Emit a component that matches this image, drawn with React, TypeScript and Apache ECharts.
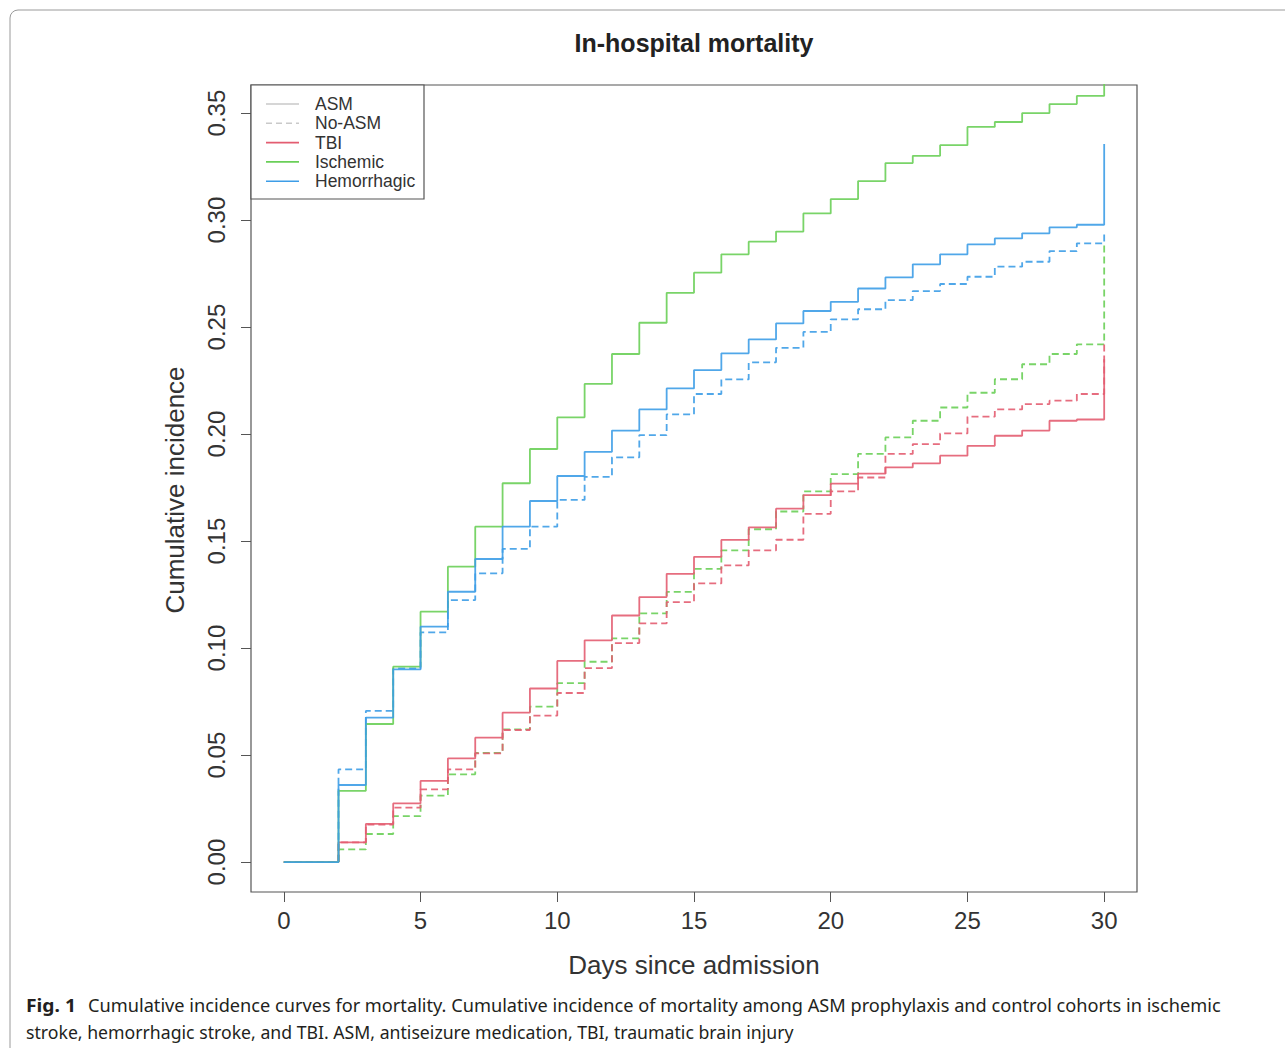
import React, { useEffect, useRef } from "react";
import * as echarts from "echarts";

const days = [0,1,2,3,4,5,6,7,8,9,10,11,12,13,14,15,16,17,18,19,20,21,22,23,24,25,26,27,28,29,30];

const ischemicASM = [0,0,0.0333,0.0645,0.0913,0.117,0.138,0.1567,0.177,0.193,0.2078,0.2234,0.2374,0.252,0.266,0.2754,0.284,0.2899,0.2946,0.3031,0.3098,0.3182,0.3266,0.33,0.335,0.3435,0.3458,0.35,0.3542,0.358,0.375];
const ischemicNoASM = [0,0,0.0059,0.0131,0.0215,0.031,0.041,0.051,0.062,0.0726,0.0836,0.0936,0.1045,0.1162,0.1262,0.137,0.1456,0.1555,0.1638,0.1732,0.1813,0.1907,0.1984,0.2062,0.2124,0.2193,0.2256,0.2326,0.2374,0.2419,0.289];
const hemorrhagicASM = [0,0,0.036,0.0675,0.09,0.11,0.1263,0.1416,0.1567,0.1687,0.1804,0.1917,0.2016,0.2115,0.2213,0.2299,0.2377,0.2442,0.2517,0.2575,0.2618,0.268,0.2732,0.2793,0.284,0.2886,0.2914,0.2938,0.2966,0.2978,0.3355];
const hemorrhagicNoASM = [0,0,0.0433,0.0706,0.0905,0.1073,0.1224,0.1349,0.1463,0.1567,0.1692,0.18,0.1891,0.1995,0.2092,0.2187,0.2255,0.2335,0.2403,0.2477,0.2536,0.2583,0.2626,0.2668,0.2701,0.2735,0.2782,0.2805,0.2855,0.2891,0.295];
const tbiASM = [0,0,0.0092,0.0178,0.0274,0.0379,0.0484,0.0581,0.0698,0.0811,0.094,0.1036,0.1152,0.1238,0.1347,0.1426,0.1505,0.1564,0.1651,0.1715,0.1768,0.1815,0.1844,0.1863,0.1899,0.1945,0.1992,0.2016,0.2062,0.2068,0.235];
const tbiNoASM = [0,0,0.0092,0.0175,0.0254,0.034,0.0433,0.0508,0.0617,0.0684,0.079,0.0906,0.1023,0.1115,0.1215,0.1302,0.1386,0.1456,0.1506,0.1627,0.1732,0.1797,0.1907,0.1953,0.2003,0.2081,0.2115,0.214,0.2156,0.2187,0.242];

const xTicks = [0, 5, 10, 15, 20, 25, 30];
const yTicks = [0, 0.05, 0.1, 0.15, 0.2, 0.25, 0.3, 0.35];

const legendLabels = ["ASM", "No-ASM", "TBI", "Ischemic", "Hemorrhagic"];

const RED = "#E35D71";
const GREEN = "#6ACF58";
const BLUE = "#3D9DE7";
const GREY = "#c9c9c9";

const title = "In-hospital mortality";
const xTitle = "Days since admission";
const yTitle = "Cumulative incidence";
const captionBold = "Fig. 1";
const captionLine1 = "Cumulative incidence curves for mortality. Cumulative incidence of mortality among ASM prophylaxis and control cohorts in ischemic";
const captionLine2 = "stroke, hemorrhagic stroke, and TBI. ASM, antiseizure medication, TBI, traumatic brain injury";

function measure(text: string, font: string): number {
  const c = document.createElement("canvas");
  const ctx = c.getContext("2d");
  if (!ctx) return 0;
  ctx.font = font;
  return ctx.measureText(text).width;
}

export default function App() {
  const ref = useRef<HTMLDivElement>(null);

  useEffect(() => {
    if (!ref.current) return;
    const chart = echarts.init(ref.current, null, { renderer: "svg" });

    const mk = (name: string, vals: number[], color: string, dashed: boolean) => ({
      name,
      type: "line",
      step: "end",
      showSymbol: false,
      symbol: "none",
      silent: true,
      clip: true,
      data: days.map((d, i) => [d, vals[i]]),
      lineStyle: { color, width: 1.8, type: dashed ? [7, 4] : "solid", opacity: 0.9 },
    });

    const capFont = "18px 'Noto Sans'";
    const capBoldFont = "bold 18px 'Noto Sans'";
    const w1 = measure(captionLine1, capFont) || 1134;
    const w2 = measure(captionLine2, capFont) || 768;
    const wb = measure(captionBold, capBoldFont) || 50;

    const legendColors = [GREY, GREY, RED, GREEN, BLUE];
    const legendDash = [false, true, false, false, false];
    const legendEls: any[] = [
      {
        type: "rect",
        z: 20,
        shape: { x: 251, y: 85, width: 173, height: 114 },
        style: { fill: "#fff", stroke: "#555", lineWidth: 1.2 },
      },
    ];
    legendLabels.forEach((lab, i) => {
      const y = 104 + i * 19.3;
      legendEls.push({
        type: "line",
        z: 21,
        shape: { x1: 266, y1: y, x2: 299, y2: y },
        style: { stroke: legendColors[i], lineWidth: 1.6, lineDash: legendDash[i] ? [6, 4] : null },
      });
      legendEls.push({
        type: "text",
        z: 21,
        x: 315,
        y: y,
        style: {
          text: lab,
          fill: "#333",
          font: "17.5px 'Liberation Sans'",
          align: "left",
          verticalAlign: "middle",
        },
      });
    });

    const option: any = {
      animation: false,
      backgroundColor: "#ffffff",
      grid: {
        left: 251,
        top: 85,
        width: 886,
        height: 807,
        show: true,
        borderColor: "#555",
        borderWidth: 1.2,
        containLabel: false,
      },
      xAxis: {
        type: "value",
        min: -1.2,
        max: 31.2,
        axisLine: { show: false, onZero: false },
        splitLine: { show: false },
        axisTick: { show: true, length: 10, lineStyle: { color: "#555" }, customValues: xTicks },
        axisLabel: {
          show: true,
          customValues: xTicks,
          margin: 16,
          fontSize: 24,
          fontFamily: "'Liberation Sans'",
          color: "#333",
        },
      },
      yAxis: {
        type: "value",
        min: -0.014,
        max: 0.3631,
        axisLine: { show: false, onZero: false },
        splitLine: { show: false },
        axisTick: { show: true, length: 10, lineStyle: { color: "#555" }, customValues: yTicks },
        axisLabel: {
          show: true,
          customValues: yTicks,
          rotate: 90,
          margin: 23,
          fontSize: 24,
          fontFamily: "'Liberation Sans'",
          color: "#333",
          formatter: (v: number) => v.toFixed(2),
        },
      },
      series: [
        mk("Ischemic No-ASM", ischemicNoASM, GREEN, true),
        mk("TBI No-ASM", tbiNoASM, RED, true),
        mk("Hemorrhagic No-ASM", hemorrhagicNoASM, BLUE, true),
        mk("TBI ASM", tbiASM, RED, false),
        mk("Ischemic ASM", ischemicASM, GREEN, false),
        mk("Hemorrhagic ASM", hemorrhagicASM, BLUE, false),
      ],
      graphic: [
        {
          type: "rect",
          shape: { x: 10, y: 10, width: 1290, height: 1050, r: 8 },
          style: { fill: "none", stroke: "#9a9a9a", lineWidth: 1 },
          silent: true,
          z: -10,
        },
        {
          type: "text",
          x: 694,
          y: 43,
          style: {
            text: title,
            fill: "#222",
            font: "bold 25px 'Liberation Sans'",
            align: "center",
            verticalAlign: "middle",
          },
        },
        {
          type: "text",
          x: 694,
          y: 965,
          style: {
            text: xTitle,
            fill: "#333",
            font: "26px 'Liberation Sans'",
            align: "center",
            verticalAlign: "middle",
          },
        },
        {
          type: "text",
          x: 175,
          y: 490,
          rotation: Math.PI / 2,
          style: {
            text: yTitle,
            fill: "#333",
            font: "26px 'Liberation Sans'",
            align: "center",
            verticalAlign: "middle",
          },
        },
        ...legendEls,
        {
          type: "text",
          x: 26,
          y: 1005,
          scaleX: 50 / wb,
          style: {
            text: captionBold,
            fill: "#231f20",
            font: capBoldFont,
            align: "left",
            verticalAlign: "middle",
          },
        },
        {
          type: "text",
          x: 88,
          y: 1005,
          scaleX: 1134 / w1,
          style: {
            text: captionLine1,
            fill: "#231f20",
            font: capFont,
            align: "left",
            verticalAlign: "middle",
          },
        },
        {
          type: "text",
          x: 26,
          y: 1032,
          scaleX: 768 / w2,
          style: {
            text: captionLine2,
            fill: "#231f20",
            font: capFont,
            align: "left",
            verticalAlign: "middle",
          },
        },
      ],
    };

    chart.setOption(option);
    return () => chart.dispose();
  }, []);

  return (
    <div
      ref={ref}
      style={{ position: "absolute", left: 0, top: 0, width: 1285, height: 1048 }}
    />
  );
}
